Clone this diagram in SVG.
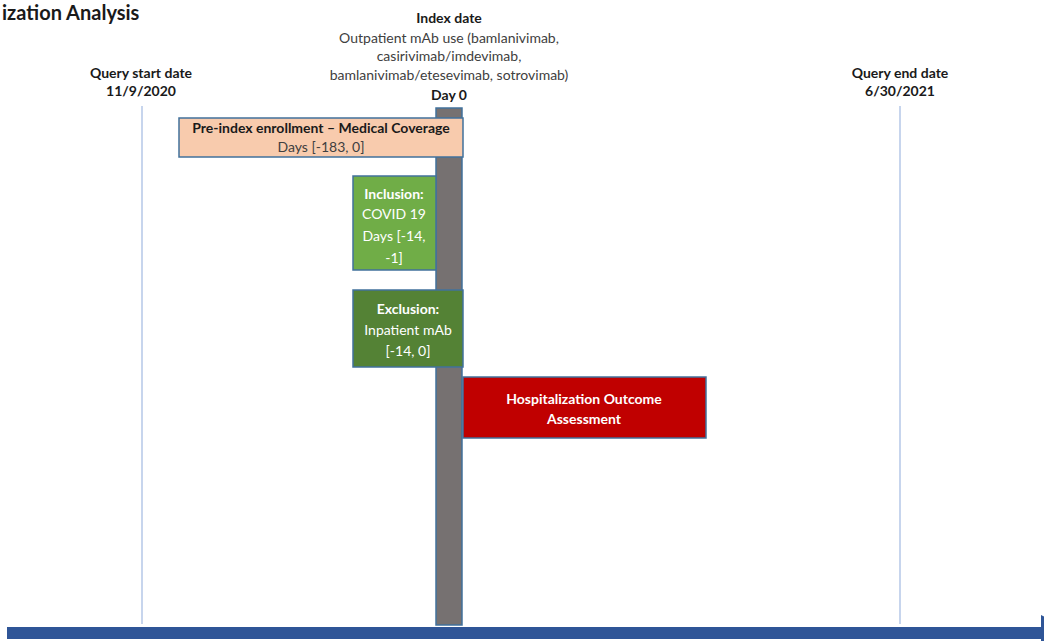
<svg xmlns="http://www.w3.org/2000/svg" width="1044" height="641" viewBox="0 0 1044 641">
<style>
text{font-family:Lato,"Liberation Sans",sans-serif;text-anchor:middle;font-size:14px;fill:#404040}
.b{font-weight:bold;fill:#1a1a1a}
.w{fill:#ffffff}
.t{font-size:20px;font-weight:bold;text-anchor:start;fill:#1a1a1a}
.vl{stroke:#b4c7e7;stroke-width:1.5}
.box{stroke:#41719c;stroke-width:1.5}
</style>
<defs>
<marker id="ah" markerWidth="3" markerHeight="3" refX="0" refY="1.5" orient="auto" markerUnits="strokeWidth">
<path d="M0,0 L3,1.5 L0,3 Z" fill="#2f5597"/>
</marker>
</defs>
<text class="t" x="2" y="20">ization Analysis</text>
<g id="connectors">
<line class="vl" x1="142" y1="106" x2="142" y2="624"/>
<line class="vl" x1="900" y1="106" x2="900" y2="624"/>
<line x1="7" y1="633" x2="1041" y2="633" stroke="#2f5597" stroke-width="12" marker-end="url(#ah)"/>
</g>
<g id="query-start">
<text class="b" x="141" y="78">Query start date</text>
<text class="b" x="141" y="96">11/9/2020</text>
</g>
<g id="query-end">
<text class="b" x="900" y="78">Query end date</text>
<text class="b" x="900" y="96">6/30/2021</text>
</g>
<g id="index-date">
<text class="b" x="449" y="23">Index date</text>
<text x="449" y="43">Outpatient mAb use (bamlanivimab,</text>
<text x="449" y="61">casirivimab/imdevimab,</text>
<text x="449" y="80">bamlanivimab/etesevimab, sotrovimab)</text>
<text class="b" x="449" y="100">Day 0</text>
</g>
<g id="day0-bar">
<rect class="box" x="436" y="108" width="26" height="517" fill="#767171"/>
</g>
<g id="pre-index">
<rect class="box" x="179" y="118" width="284" height="39" fill="#f8cbad"/>
<text class="b" x="321" y="133">Pre-index enrollment – Medical Coverage</text>
<text x="321" y="152">Days [-183, 0]</text>
</g>
<g id="inclusion">
<rect class="box" x="353" y="176" width="83" height="94" fill="#70ad47"/>
<text class="b w" x="394" y="199">Inclusion:</text>
<text class="w" x="394" y="219">COVID 19</text>
<text class="w" x="394" y="241">Days [-14,</text>
<text class="w" x="394" y="263">-1]</text>
</g>
<g id="exclusion">
<rect class="box" x="353" y="290" width="110" height="77" fill="#548235"/>
<text class="b w" x="408" y="314">Exclusion:</text>
<text class="w" x="408" y="335">Inpatient mAb</text>
<text class="w" x="408" y="356">[-14, 0]</text>
</g>
<g id="hospitalization">
<rect class="box" x="463" y="377" width="243" height="61" fill="#c00000"/>
<text class="b w" x="584" y="404">Hospitalization Outcome</text>
<text class="b w" x="584" y="424">Assessment</text>
</g>
</svg>
